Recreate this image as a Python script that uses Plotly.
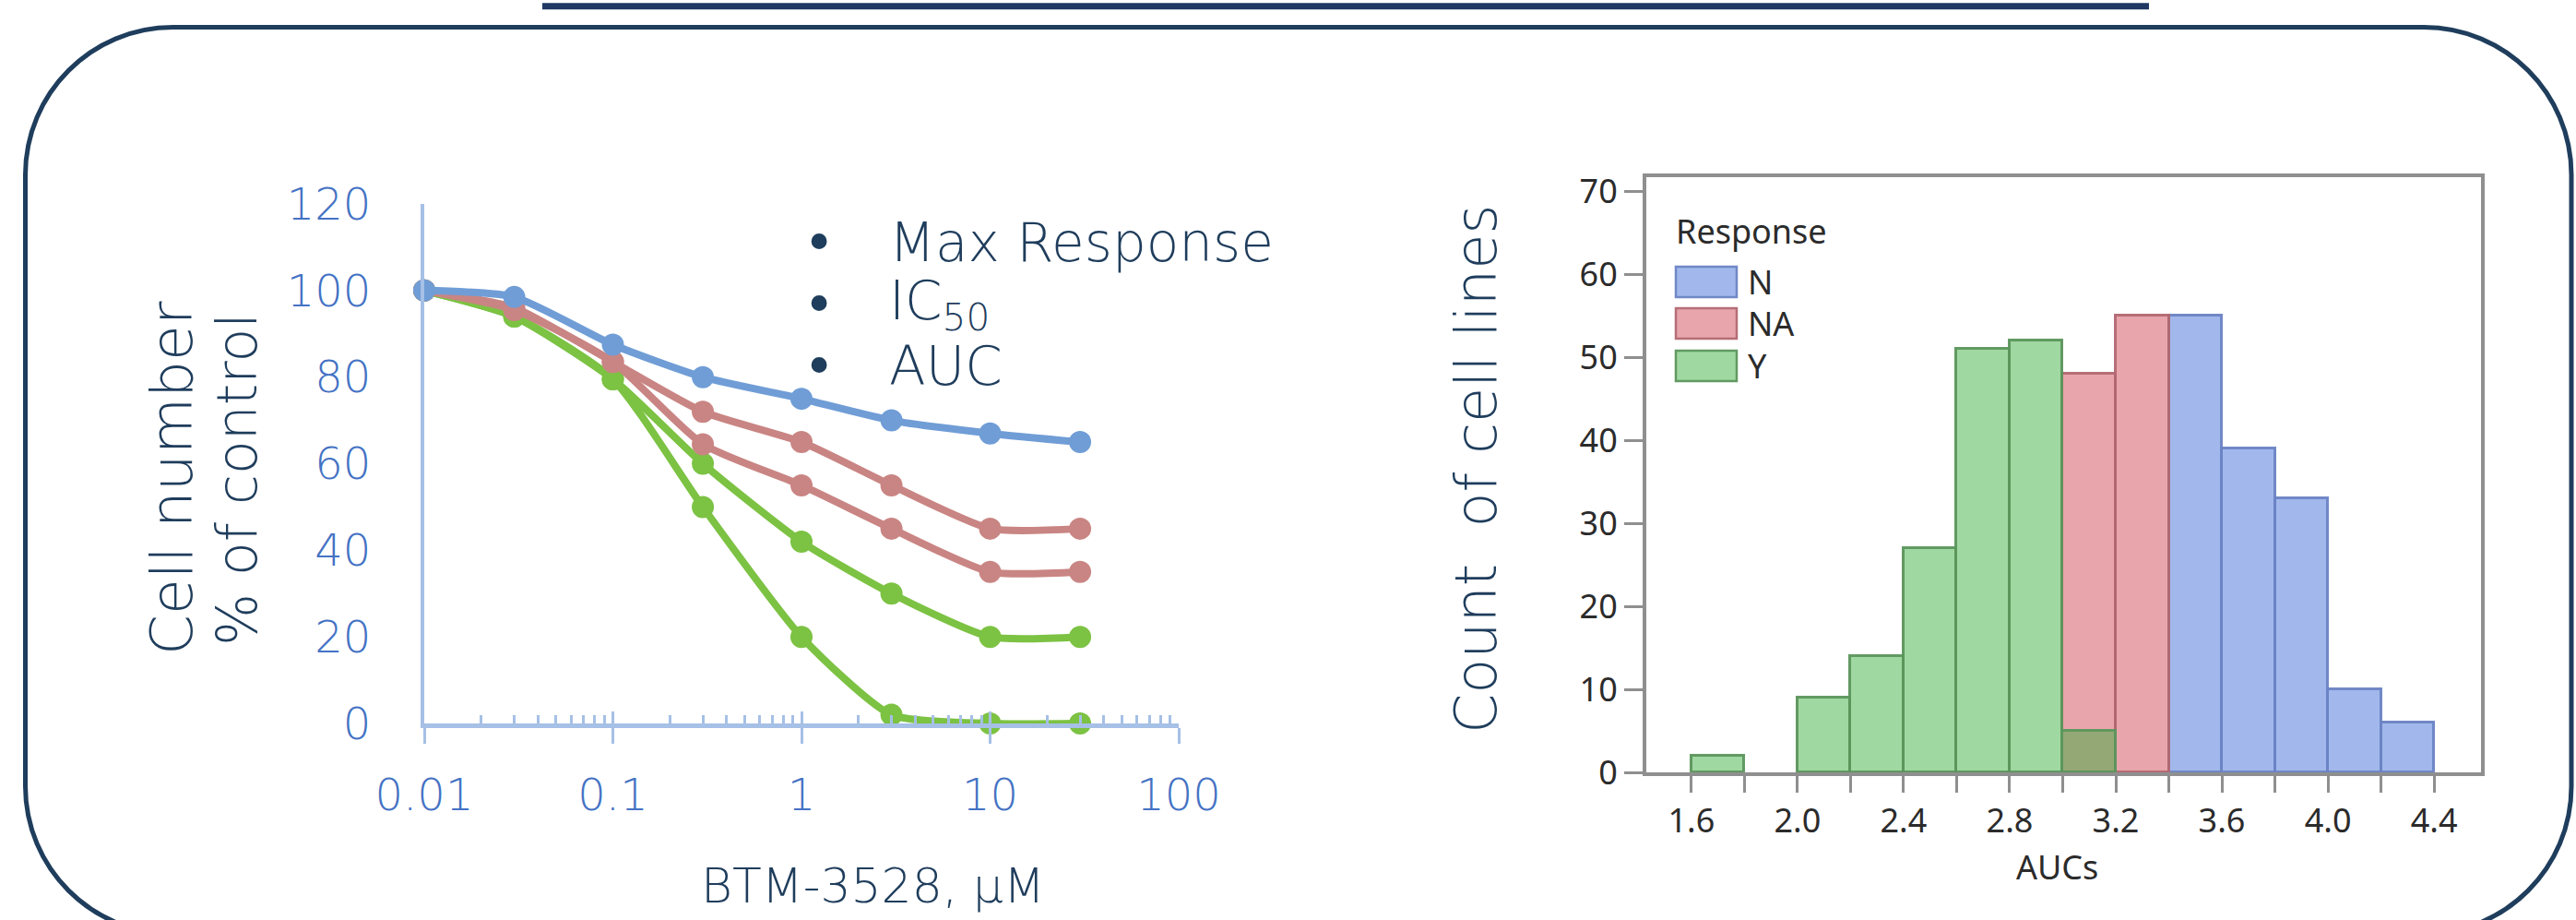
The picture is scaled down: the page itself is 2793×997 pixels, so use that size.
import plotly.graph_objects as go

# ---------------- data ----------------
# dose-response curves (BTM-3528 concentration in µM, cell number as % of control)
conc = [0.01, 0.03, 0.1, 0.3, 1, 3, 10, 30]
resp_blue = [100, 98.5, 87.5, 80, 75, 70, 67, 65]
resp_red_hi = [100, 96, 83.5, 72, 65, 55, 45, 45]
resp_red_lo = [100, 95.5, 83.5, 64.5, 55, 45, 35, 35]
resp_green_hi = [100, 94, 79.5, 60, 42, 30, 20, 20]
resp_green_lo = [100, 94, 79.5, 50, 20, 2, 0, 0]

x_tick_vals = [0.01, 0.1, 1, 10, 100]
x_tick_text = ["0.01", "0.1", "1", "10", "100"]
y_tick_vals = [0, 20, 40, 60, 80, 100, 120]

# AUC histogram: bin start, counts per response group
bin_width = 0.2
auc_y_bins = [1.6, 2.0, 2.2, 2.4, 2.6, 2.8, 3.0]
auc_y_counts = [2, 9, 14, 27, 51, 52, 5]
auc_na_bins = [3.0, 3.2]
auc_na_counts = [48, 55]
auc_n_bins = [3.4, 3.6, 3.8, 4.0, 4.2]
auc_n_counts = [55, 39, 33, 10, 6]

legend_items = ["Max Response", "IC<sub>50</sub>", "AUC"]
response_groups = ["N", "NA", "Y"]

# ---------------- canvas helpers ----------------
W, H = 2793, 997


def px(x):
    return x / W


def py(y):
    return 1 - y / H


NAVY = "#1f3d5c"
TICK_BLUE = "#4472c4"
AXIS_BLUE = "#a6c0e6"
GREY = "#8f8f8f"
LEFT_FONT = "DejaVu Sans"
RIGHT_FONT = "Noto Sans"

fig = go.Figure()

# ---------------- dose-response curves ----------------
curves = [
    (resp_green_lo, "#7cc243"),
    (resp_green_hi, "#7cc243"),
    (resp_red_lo, "#c98583"),
    (resp_red_hi, "#c98583"),
    (resp_blue, "#709dd6"),
]
for vals, col in curves:
    fig.add_trace(go.Scatter(
        x=conc, y=vals, mode="lines+markers",
        line=dict(color=col, width=8, shape="spline", smoothing=0.6),
        marker=dict(color=col, size=24),
        cliponaxis=False, showlegend=False, hoverinfo="skip",
        xaxis="x", yaxis="y",
    ))

# helper trace for the upward half of the major x ticks
fig.add_trace(go.Scatter(x=[None], y=[None], xaxis="x3", yaxis="y",
                         showlegend=False, hoverinfo="skip"))

# ---------------- AUC histogram ----------------
style = {
    "N": ("rgba(57,104,215,0.47)", "rgba(108,132,196,0.95)"),
    "NA": ("rgba(209,64,79,0.47)", "rgba(178,104,114,0.95)"),
    "Y": ("rgba(53,172,57,0.47)", "rgba(92,150,92,0.95)"),
}
groups = [
    ("N", auc_n_bins, auc_n_counts),
    ("NA", auc_na_bins, auc_na_counts),
    ("Y", auc_y_bins, auc_y_counts),
]
for name, bins, counts in groups:
    fill, edge = style[name]
    fig.add_trace(go.Bar(
        x=[b + bin_width / 2 for b in bins], y=counts, width=bin_width, name=name,
        marker=dict(color=fill, line=dict(color=edge, width=3)),
        xaxis="x2", yaxis="y2", showlegend=False, hoverinfo="skip",
    ))

# ---------------- shapes ----------------
shapes = []

# rounded panel frame
L, R, T, B, r = 27.5, 2788, 29.5, 1012, 160
k = 0.5523 * r


def P(x, y):
    return f"{px(x):.6f},{py(y):.6f}"


frame = (
    f"M{P(L + r, T)} L{P(R - r, T)} "
    f"C{P(R - r + k, T)} {P(R, T + r - k)} {P(R, T + r)} "
    f"L{P(R, B - r)} "
    f"C{P(R, B - r + k)} {P(R - r + k, B)} {P(R - r, B)} "
    f"L{P(L + r, B)} "
    f"C{P(L + r - k, B)} {P(L, B - r + k)} {P(L, B - r)} "
    f"L{P(L, T + r)} "
    f"C{P(L, T + r - k)} {P(L + r - k, T)} {P(L + r, T)} Z"
)
shapes.append(dict(type="path", xref="paper", yref="paper", path=frame,
                   line=dict(color=NAVY, width=5), layer="below"))

# heading underline
shapes.append(dict(type="line", xref="paper", yref="paper",
                   x0=px(588), x1=px(2330), y0=py(6.7), y1=py(6.7),
                   line=dict(color="#1f3864", width=7)))

# histogram legend swatches
sw_rows = [(289, 322), (334, 367), (380, 413)]
for name, (y0, y1) in zip(response_groups, sw_rows):
    fill, edge = style[name]
    shapes.append(dict(type="rect", xref="paper", yref="paper",
                       x0=px(1817), x1=px(1883), y0=py(y1), y1=py(y0),
                       fillcolor=fill, line=dict(color=edge, width=2.5)))

# ---------------- annotations ----------------
ann = []
left_font = dict(family=LEFT_FONT, color=NAVY, weight=300)


def note(x, y, text, font, **kw):
    d = dict(x=px(x), y=py(y), text=text, font=font, showarrow=False,
             xref="paper", yref="paper", xanchor="center", yanchor="middle")
    d.update(kw)
    ann.append(d)


note(186, 518, "Cell number", dict(left_font, size=63), textangle=-90)
note(257, 520, "% of control", dict(left_font, size=60), textangle=-90)
note(947, 960, "BTM-3528, µM", dict(left_font, size=52))

for i, item in enumerate(legend_items):
    yc = 263 + i * 67
    note(888, yc, "•", dict(left_font, size=58, weight=400))
    note(962, yc, item, dict(left_font, size=58), xanchor="left")

note(1601, 508, "Count\u00a0 of cell lines", dict(left_font, size=62), textangle=-90)

small_font = dict(family=RIGHT_FONT, size=36, color="#2b2b2b")
note(2230, 939, "AUCs", small_font)
note(1815, 251, "Response", small_font, xanchor="left")
for name, (y0, y1) in zip(response_groups, sw_rows):
    note(1893, (y0 + y1) / 2, name, small_font, xanchor="left")

# ---------------- layout ----------------
minor_vals = [m * 10 ** e for e in range(-2, 2) for m in range(2, 10)]

fig.update_layout(
    width=W, height=H,
    margin=dict(l=0, r=0, t=0, b=0, pad=0, autoexpand=False),
    paper_bgcolor="white", plot_bgcolor="rgba(0,0,0,0)",
    barmode="overlay", bargap=0,
    shapes=shapes, annotations=ann,
    xaxis=dict(
        domain=[px(460), px(1278)], type="log", range=[-2, 2], anchor="y",
        automargin=False, showgrid=False, zeroline=False,
        showline=True, linecolor=AXIS_BLUE, linewidth=5,
        tickmode="array", tickvals=x_tick_vals, ticktext=x_tick_text,
        ticks="outside", ticklen=17, tickwidth=3, tickcolor=AXIS_BLUE,
        ticklabelstandoff=14,
        tickfont=dict(family=LEFT_FONT, size=48, color=TICK_BLUE, weight=300),
        minor=dict(tickmode="array", tickvals=minor_vals, ticks="inside",
                   ticklen=9, tickwidth=3, tickcolor=AXIS_BLUE, showgrid=False),
    ),
    xaxis3=dict(
        domain=[px(460), px(1278)], type="log", range=[-2, 2], anchor="y",
        overlaying="x", automargin=False, showgrid=False, zeroline=False,
        showline=False, tickmode="array", tickvals=x_tick_vals,
        showticklabels=False,
        ticks="inside", ticklen=13, tickwidth=3, tickcolor=AXIS_BLUE,
    ),
    yaxis=dict(
        domain=[py(784), py(221)], range=[0, 120], anchor="x",
        automargin=False, showgrid=False, zeroline=False,
        showline=True, linecolor=AXIS_BLUE, linewidth=4,
        tickmode="array", tickvals=y_tick_vals, ticks="",
        ticklabelstandoff=44,
        tickfont=dict(family=LEFT_FONT, size=48, color=TICK_BLUE, weight=300),
    ),
    xaxis2=dict(
        domain=[px(1785), px(2690)], range=[1.43, 4.577], anchor="y2",
        automargin=False, showgrid=False, zeroline=False,
        showline=True, mirror=True, linecolor=GREY, linewidth=4,
        tick0=1.6, dtick=0.4, tickformat=".1f",
        ticks="outside", ticklen=18, tickwidth=3, tickcolor=GREY,
        tickfont=dict(family=RIGHT_FONT, size=36, color="#2b2b2b"),
        minor=dict(tick0=1.6, dtick=0.2, ticks="outside", ticklen=18,
                   tickwidth=3, tickcolor=GREY, showgrid=False),
    ),
    yaxis2=dict(
        domain=[py(837), py(192)], range=[0, 71.67], anchor="x2",
        automargin=False, showgrid=False, zeroline=False,
        showline=True, mirror=True, linecolor=GREY, linewidth=4,
        tick0=0, dtick=10,
        ticks="outside", ticklen=20, tickwidth=3, tickcolor=GREY,
        tickfont=dict(family=RIGHT_FONT, size=36, color="#2b2b2b"),
    ),
)

fig.write_html("out.html")
